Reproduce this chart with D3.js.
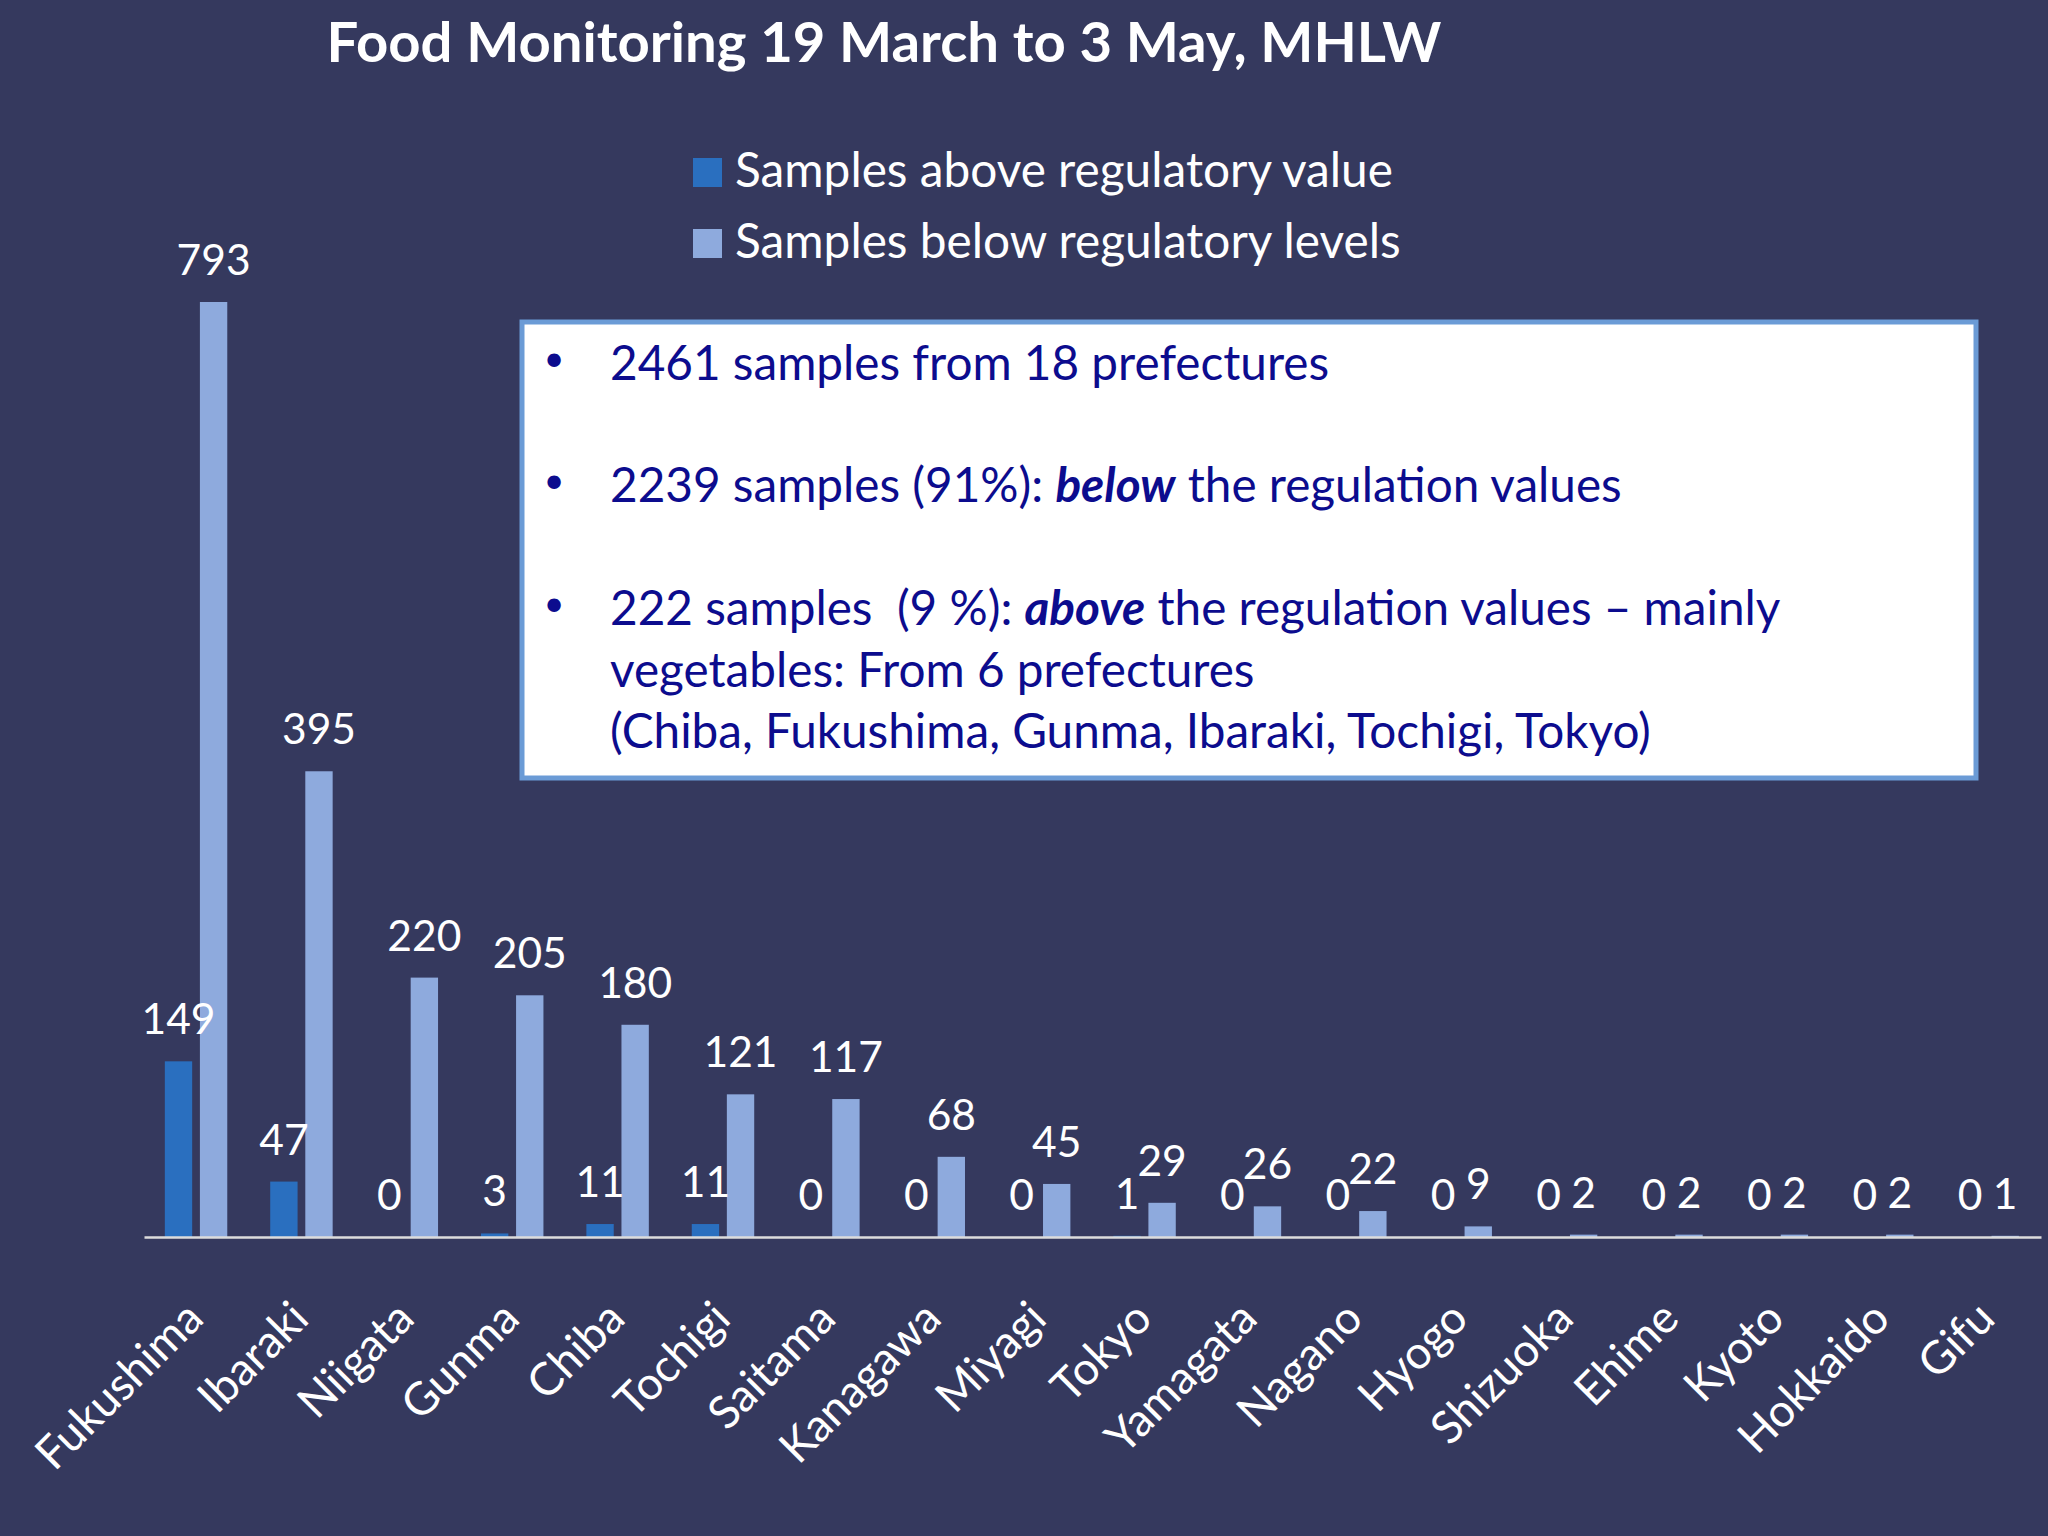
<!DOCTYPE html>
<html>
<head>
<meta charset="utf-8">
<script src="https://cdn.jsdelivr.net/npm/d3@7"></script>
<style>
  html, body { margin: 0; padding: 0; background: #35395e; }
  svg { display: block; }
</style>
</head>
<body>
<svg id="chart" width="2048" height="1536"></svg>
<script>
// ---- data ----
const prefectures = ["Fukushima","Ibaraki","Niigata","Gunma","Chiba","Tochigi","Saitama","Kanagawa","Miyagi","Tokyo","Yamagata","Nagano","Hyogo","Shizuoka","Ehime","Kyoto","Hokkaido","Gifu"];
const aboveValues = [149,47,0,3,11,11,0,0,0,1,0,0,0,0,0,0,0,0];
const belowValues = [793,395,220,205,180,121,117,68,45,29,26,22,9,2,2,2,2,1];
const seriesNames = ["Samples above regulatory value","Samples below regulatory levels"];
const titleText = "Food Monitoring 19 March to 3 May, MHLW";
const noteLines = [
  [{t:"2461 samples from 18 prefectures"}],
  [{t:"2239 samples (91%): "},{t:"below",bi:true},{t:" the regulation values"}],
  [{t:"222 samples\u00A0\u00A0(9 %): "},{t:"above",bi:true},{t:" the regulation values \u2013 mainly"}],
  [{t:"vegetables: From 6 prefectures"}],
  [{t:"(Chiba, Fukushima, Gunma, Ibaraki, Tochigi, Tokyo)"}]
];

const FONT = "Lato, 'Open Sans', 'Noto Sans', sans-serif";
const BG = "#35395e", DARK = "#2a6fbf", LIGHT = "#8eaadd", NAVY = "#0c0c8e";

const svg = d3.select("#chart");
svg.append("rect").attr("width",2048).attr("height",1536).attr("fill",BG);

function width(n){ return n.getComputedTextLength ? n.getComputedTextLength() : n.getBBox().width; }
// fit helper: scale font-size so text width matches target
function fit(sel, target){
  const n = sel.node();
  const fs = parseFloat(sel.attr("font-size"));
  const w = width(n);
  const nf = w > 0 ? fs * target / w : fs;
  sel.attr("font-size", nf);
  return nf;
}

// ---- title ----
const title = svg.append("text")
  .attr("x", 884).attr("y", 62).attr("text-anchor","middle")
  .attr("font-family", FONT).attr("font-weight", 700).attr("font-size", 52)
  .attr("fill","#ffffff").text(titleText);
fit(title, 1115);

// ---- scales ----
const x0 = d3.scaleBand().domain(prefectures).range([144, 2041]).padding(0);
const bw = x0.bandwidth();
const keys = ["above","below"];
const x1 = d3.scaleBand().domain(keys).range([bw*16/81, bw*64/81]).paddingInner(0.22).paddingOuter(0);
const y = d3.scaleLinear().domain([0, 793]).range([1237, 302]);

const data = prefectures.map((p,i)=>({p, above: aboveValues[i], below: belowValues[i]}));
const colors = {above: DARK, below: LIGHT};

// ---- bars ----
const groups = svg.append("g").selectAll("g").data(data).join("g")
  .attr("transform", d => `translate(${x0(d.p)},0)`);
groups.selectAll("rect").data(d => keys.map(k => ({k, v: d[k]}))).join("rect")
  .attr("x", d => x1(d.k)).attr("width", x1.bandwidth())
  .attr("y", d => y(d.v)).attr("height", d => y(0) - y(d.v))
  .attr("fill", d => colors[d.k]);

// ---- value labels ----
const vl = groups.selectAll("text.val").data(d => keys.map(k => ({k, v: d[k]}))).join("text")
  .attr("class","val")
  .attr("x", d => x1(d.k) + x1.bandwidth()/2)
  .attr("y", d => y(d.v) - 27)
  .attr("text-anchor","middle")
  .attr("font-family", FONT).attr("font-size", 44).attr("fill","#ffffff")
  .text(d => d.v);
const ref = vl.filter(d => d.v === 793);
const vs = fit(ref, 74);
vl.attr("font-size", vs);

// ---- axis ----
const axis = svg.append("g").attr("transform", `translate(0,${y(0)})`)
  .call(d3.axisBottom(x0).tickSize(0).tickSizeOuter(0));
axis.select(".domain").attr("stroke","#dcdcdc").attr("stroke-width",2.5);
axis.selectAll(".tick text")
  .attr("font-family", FONT).attr("font-size", 44).attr("fill","#ffffff")
  .attr("x",0).attr("y",0).attr("dy",0)
  .attr("text-anchor","end")
  .attr("transform","translate(9,84) rotate(-45)");
const fk = axis.selectAll(".tick text").filter(d => d === "Fukushima");
const ts = fit(fk, 214);
axis.selectAll(".tick text").attr("font-size", ts);

// ---- legend ----
const legend = svg.append("g");
const lg = legend.selectAll("g").data(seriesNames).join("g")
  .attr("transform", (d,i) => `translate(693,${158 + i*71})`);
lg.append("rect").attr("width",29).attr("height",29).attr("fill",(d,i)=> i===0?DARK:LIGHT);
const lt = lg.append("text").attr("x",42).attr("y",29)
  .attr("font-family",FONT).attr("font-size",44).attr("fill","#ffffff").text(d=>d);
const lsz = fit(lt.filter((d,i)=>i===0), 658);
lt.attr("font-size", lsz);

// ---- note box ----
const box = svg.append("g");
box.append("rect").attr("x",522).attr("y",322).attr("width",1454).attr("height",456)
  .attr("fill","#ffffff").attr("stroke","#6b9bd6").attr("stroke-width",5);
const baselines = [380, 502, 625, 687, 748];
const bulletRows = [0,1,2];
box.selectAll("text.bullet").data(bulletRows).join("text").attr("class","bullet")
  .attr("x",554).attr("y",i=>baselines[i] - 2).attr("text-anchor","middle")
  .attr("font-family","'DejaVu Sans', sans-serif").attr("font-size",46).attr("fill",NAVY)
  .text("\u2022");
const lines = box.selectAll("text.line").data(noteLines).join("text").attr("class","line")
  .attr("x",610).attr("y",(d,i)=>baselines[i])
  .attr("font-family",FONT).attr("font-size",44).attr("fill",NAVY)
  .style("white-space","pre");
lines.selectAll("tspan").data(d=>d).join("tspan")
  .attr("font-weight", d=>d.bi?700:null)
  .attr("font-style", d=>d.bi?"italic":null)
  .text(d=>d.t);
// calibrate from the three bullet lines together (targets 707, 1017, 1178)
let sumW = 0;
lines.filter((d,i)=>i<3).each(function(){ sumW += width(this); });
const bsz = 44 * (707 + 1017 + 1178) / sumW;
lines.attr("font-size", bsz);
</script>
</body>
</html>
